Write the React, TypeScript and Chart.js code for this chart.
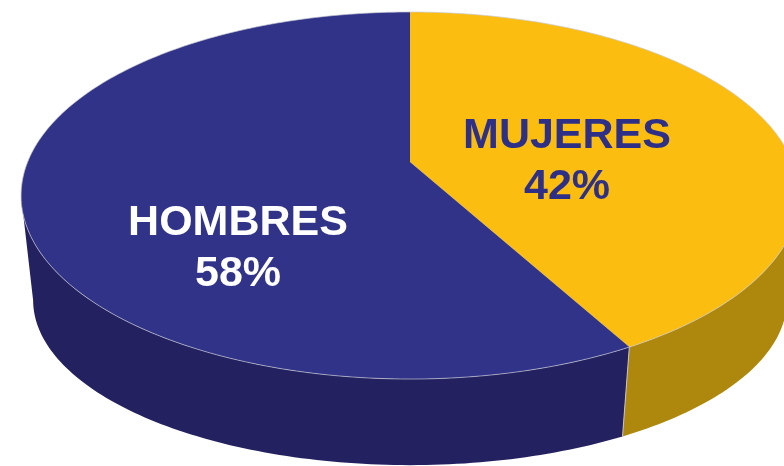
import React, { useEffect, useRef } from 'react';
import { Chart, registerables } from 'chart.js';

Chart.register(...registerables);

// ---- data ----
const categories = ['MUJERES', 'HOMBRES'];
const shares = [42, 58];
const percentLabels = ['42%', '58%'];
const topColors = ['#FBBE10', '#303388'];
const sideColors = ['#AD880D', '#232160'];
const labelColors = ['#2E3088', '#FFFFFF'];

// ---- perspective projection of the disc (screen px) ----
const X0 = 410;
const Y0 = 162;
const A = 382.4;
const B = 177.4;
const C = -0.1826;
const S_BOT = 0.969;
const Y_BOT = 270;
const B_BOT = 159.5;

function topPt(theta: number): [number, number] {
  const u = Math.sin(theta);
  const v = -Math.cos(theta);
  const k = 1 + C * v;
  return [X0 + (A * u) / k, Y0 + (B * v) / k];
}
function botPt(theta: number): [number, number] {
  const u = Math.sin(theta);
  const v = -Math.cos(theta);
  const k = 1 + C * v;
  return [X0 + (S_BOT * A * u) / k, Y_BOT + (B_BOT * v) / k];
}

// visible (front) range of the side wall: between the silhouette extremes
const T_RIGHT = Math.acos(C);
const T_LEFT = 2 * Math.PI - T_RIGHT;

const pie3d = {
  id: 'pie3d',
  beforeDatasetsDraw(chart: any) {
    const ctx: CanvasRenderingContext2D = chart.ctx;
    const meta = chart.getDatasetMeta(0);
    const arcs = meta.data;
    const slices = arcs.map((arc: any, i: number) => {
      const p = arc.getProps(['startAngle', 'endAngle'], true);
      return {
        t1: p.startAngle + Math.PI / 2,
        t2: p.endAngle + Math.PI / 2,
        top: arc.options.backgroundColor,
        side: sideColors[i],
      };
    });
    const steps = 360;
    ctx.save();
    // side walls (front visible part only)
    slices.forEach((s: any) => {
      const a = Math.max(s.t1, T_RIGHT);
      const b = Math.min(s.t2, T_LEFT);
      if (b <= a) return;
      const n = Math.max(4, Math.ceil(((b - a) / (2 * Math.PI)) * steps));
      ctx.beginPath();
      for (let j = 0; j <= n; j++) {
        const t = a + ((b - a) * j) / n;
        const [x, y] = topPt(t);
        if (j === 0) ctx.moveTo(x, y);
        else ctx.lineTo(x, y);
      }
      for (let j = n; j >= 0; j--) {
        const t = a + ((b - a) * j) / n;
        const [x, y] = botPt(t);
        ctx.lineTo(x, y);
      }
      ctx.closePath();
      ctx.fillStyle = s.side;
      ctx.fill();
    });
    // side divider lines (only where visible)
    ctx.strokeStyle = 'rgba(205,205,215,0.9)';
    ctx.lineWidth = 1;
    slices.forEach((s: any) => {
      if (s.t1 < T_RIGHT || s.t1 > T_LEFT) return;
      const [x1, y1] = topPt(s.t1);
      const [x2, y2] = botPt(s.t1);
      ctx.beginPath();
      ctx.moveTo(x1, y1);
      ctx.lineTo(x2, y2);
      ctx.stroke();
    });
    // top faces
    slices.forEach((s: any) => {
      ctx.beginPath();
      ctx.moveTo(X0, Y0);
      const n = Math.max(4, Math.ceil(((s.t2 - s.t1) / (2 * Math.PI)) * steps));
      for (let j = 0; j <= n; j++) {
        const t = s.t1 + ((s.t2 - s.t1) * j) / n;
        const [x, y] = topPt(t);
        ctx.lineTo(x, y);
      }
      ctx.closePath();
      ctx.fillStyle = s.top;
      ctx.fill();
    });
    // light rim on the top face
    ctx.beginPath();
    for (let j = 0; j <= 360; j++) {
      const t = (j / 360) * 2 * Math.PI;
      const [x, y] = topPt(t);
      if (j === 0) ctx.moveTo(x, y);
      else ctx.lineTo(x, y);
    }
    ctx.strokeStyle = 'rgba(200,200,212,0.85)';
    ctx.lineWidth = 0.8;
    ctx.stroke();

    // labels
    const labelPos: [number, number][] = [
      [567, 148],
      [238, 235],
    ];
    ctx.font = 'bold 43px "Liberation Sans", Arial, sans-serif';
    ctx.textAlign = 'center';
    ctx.textBaseline = 'alphabetic';
    categories.forEach((c, i) => {
      const [lx, ly] = labelPos[i];
      ctx.fillStyle = labelColors[i];
      ctx.fillText(c, lx, ly);
      ctx.fillText(percentLabels[i], lx, ly + 51);
    });
    ctx.restore();
    return false;
  },
};

export default function App() {
  const ref = useRef<HTMLCanvasElement | null>(null);
  useEffect(() => {
    document.body.style.margin = '0';
    if (!ref.current) return;
    const chart = new Chart(ref.current, {
      type: 'pie',
      data: {
        labels: categories,
        datasets: [
          {
            data: shares,
            backgroundColor: topColors,
            borderWidth: 0,
          },
        ],
      },
      options: {
        responsive: false,
        animation: false,
        plugins: {
          legend: { display: false },
          tooltip: { enabled: false },
        },
      },
      plugins: [pie3d],
    });
    return () => chart.destroy();
  }, []);
  return (
    <div style={{ width: 784, height: 466, background: '#fff' }}>
      <canvas ref={ref} width={784} height={466} style={{ display: 'block' }} />
    </div>
  );
}
